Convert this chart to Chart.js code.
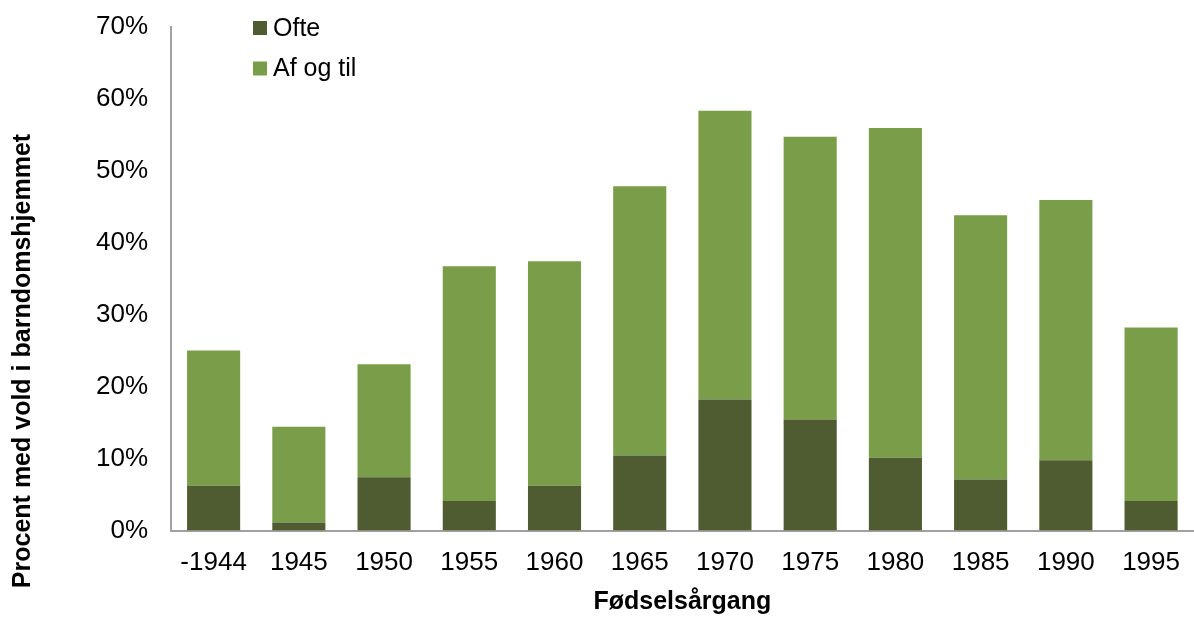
<!DOCTYPE html>
<html>
<head>
<meta charset="utf-8">
<script src="https://cdn.jsdelivr.net/npm/chart.js@4/dist/chart.umd.min.js"></script>
<style>
  html, body { margin: 0; padding: 0; background: #fff; overflow: hidden; }
  #wrap { width: 1197px; height: 617px; position: relative; }
</style>
</head>
<body>
<div id="wrap"><canvas id="chart"></canvas></div>
<script>
// Data (percent)
const categories = ['-1944', '1945', '1950', '1955', '1960', '1965', '1970', '1975', '1980', '1985', '1990', '1995'];
const ofte = [6.2, 1.1, 7.4, 4.1, 6.2, 10.4, 18.2, 15.4, 10.1, 7.1, 9.75, 4.1];
const afOgTil = [18.8, 13.3, 15.7, 32.6, 31.2, 37.4, 40.1, 39.3, 45.8, 36.7, 36.15, 24.1];
const yTicks = [0, 10, 20, 30, 40, 50, 60, 70];

const FONT = "'Liberation Sans', Arial, sans-serif";
const yTitle = 'Procent med vold i barndomshjemmet';

// Legend in the top left of the plot + y title placed like the original
const extras = {
    id: 'extras',
    afterDraw(chart) {
        const ctx = chart.ctx;
        ctx.save();
        ctx.textBaseline = 'middle';
        ctx.textAlign = 'left';
        ctx.font = '25px ' + FONT;
        chart.data.datasets.forEach((ds, i) => {
            const y = 28 + i * 40.5;
            ctx.fillStyle = ds.backgroundColor;
            ctx.fillRect(253, y - 7, 14, 14);
            ctx.fillStyle = '#000';
            ctx.fillText(ds.label, 273, y + 1);
        });
        // rotated axis title
        ctx.translate(23, 361);
        ctx.rotate(-Math.PI / 2);
        ctx.textAlign = 'center';
        ctx.font = 'bold 25px ' + FONT;
        ctx.fillText(yTitle, 0, 0);
        ctx.restore();
    }
};

new Chart(document.getElementById('chart'), {
    type: 'bar',
    data: {
        labels: categories,
        datasets: [
            { label: 'Ofte', data: ofte, backgroundColor: '#4F5B30' },
            { label: 'Af og til', data: afOgTil, backgroundColor: '#7A9D4A' }
        ]
    },
    options: {
        responsive: true,
        maintainAspectRatio: false,
        animation: false,
        layout: { padding: { top: 26.5, left: 0, right: 0, bottom: 0 } },
        datasets: { bar: { barPercentage: 0.623, categoryPercentage: 1, borderWidth: 0 } },
        plugins: { legend: { display: false }, tooltip: { enabled: false } },
        scales: {
            x: {
                stacked: true,
                grid: { display: false, drawTicks: false },
                border: { display: true, color: '#a0a0a0', width: 2 },
                ticks: { color: '#000', font: { family: FONT, size: 26 }, padding: 17, maxRotation: 0 },
                title: { display: true, text: 'Fødselsårgang', color: '#000', font: { family: FONT, size: 25, weight: 'bold' }, padding: 0 },
                afterFit(scale) { scale.height = 86.5; }
            },
            y: {
                stacked: true,
                min: 0,
                max: 70,
                grid: { display: false, drawTicks: false },
                border: { display: true, color: '#a0a0a0', width: 2 },
                afterBuildTicks(scale) { scale.ticks = yTicks.map(v => ({ value: v })); },
                ticks: { color: '#000', font: { family: FONT, size: 26 }, padding: 23, callback: v => v + '%' },
                afterFit(scale) { scale.width = 171; scale.paddingTop = 0; scale.paddingBottom = 0; }
            }
        }
    },
    plugins: [extras]
});
</script>
</body>
</html>
